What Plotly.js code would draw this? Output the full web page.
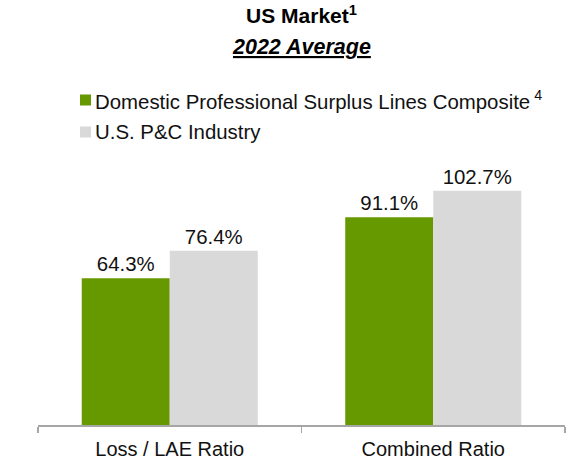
<!DOCTYPE html>
<html>
<head>
<meta charset="utf-8">
<script src="https://cdn.plot.ly/plotly-3.0.1.min.js"></script>
<style>html,body{margin:0;padding:0;background:#fff;}#chart{width:567px;height:459px;}</style>
</head>
<body>
<div id="chart"></div>
<script>
const categories = ['Loss / LAE Ratio', 'Combined Ratio'];
const compositeValues = [64.3, 91.1];
const industryValues = [76.4, 102.7];
const seriesNames = ['Domestic Professional Surplus Lines Composite<sup> 4</sup>', 'U.S. P&C Industry'];
const seriesColors = ['#669900', '#d9d9d9'];

const W = 567, H = 459;
const M = {l: 38, r: 2, t: 174, b: 34};
const pw = W - M.l - M.r, ph = H - M.t - M.b;
const px = x => (x - M.l) / pw;
const py = y => (H - M.b - y) / ph;
const FONT = 'Arial, "Liberation Sans", Helvetica, sans-serif';

const traces = [compositeValues, industryValues].map((vals, i) => ({
  type: 'bar',
  x: categories,
  y: vals,
  name: seriesNames[i],
  marker: {color: seriesColors[i], line: {width: 0}},
  texttemplate: '%{y:.1f}%',
  textposition: 'outside',
  textfont: {family: FONT, size: 20.4, color: '#111'},
  cliponaxis: false,
  hoverinfo: 'skip'
}));

const legendRows = [100, 132];
const shapes = legendRows.map((yc, i) => ({
  type: 'rect', xref: 'paper', yref: 'paper',
  x0: px(80), x1: px(91), y0: py(yc + 5.5), y1: py(yc - 5.5),
  fillcolor: seriesColors[i], line: {width: 0}
}));
const annotations = legendRows.map((yc, i) => ({
  xref: 'paper', yref: 'paper', x: px(93), y: py(yc), xanchor: 'left', yanchor: 'middle',
  text: seriesNames[i], showarrow: false,
  font: {family: FONT, size: 20.4, color: '#111'}
}));
annotations.push({
  xref: 'paper', yref: 'paper', x: 0.5, y: py(47), xanchor: 'center', yanchor: 'middle',
  text: '<b><i><u>2022 Average</u></i></b>', showarrow: false,
  font: {family: FONT, size: 21.5, color: '#000'}
});

const layout = {
  width: W, height: H,
  margin: M,
  paper_bgcolor: '#fff', plot_bgcolor: '#fff',
  showlegend: false,
  barmode: 'group', bargap: 0.332, bargroupgap: 0,
  title: {text: '<b>US Market<sup>1</sup></b>', x: 0.5, xref: 'paper', xanchor: 'center',
          y: 1 - 16 / H, yanchor: 'middle', font: {family: FONT, size: 21, color: '#000'}},
  xaxis: {
    type: 'category', showline: true, linecolor: '#a6a6a6', linewidth: 1.5,
    ticks: 'outside', tickson: 'boundaries', ticklen: 6, tickcolor: '#a6a6a6', tickwidth: 1.5,
    ticklabelstandoff: 5,
    tickfont: {family: FONT, size: 20, color: '#111'}, showgrid: false, zeroline: false
  },
  yaxis: {range: [0, 110], visible: false, showgrid: false, zeroline: false},
  shapes: shapes,
  annotations: annotations
};

Plotly.newPlot('chart', traces, layout, {displayModeBar: false, staticPlot: true});
</script>
</body>
</html>
